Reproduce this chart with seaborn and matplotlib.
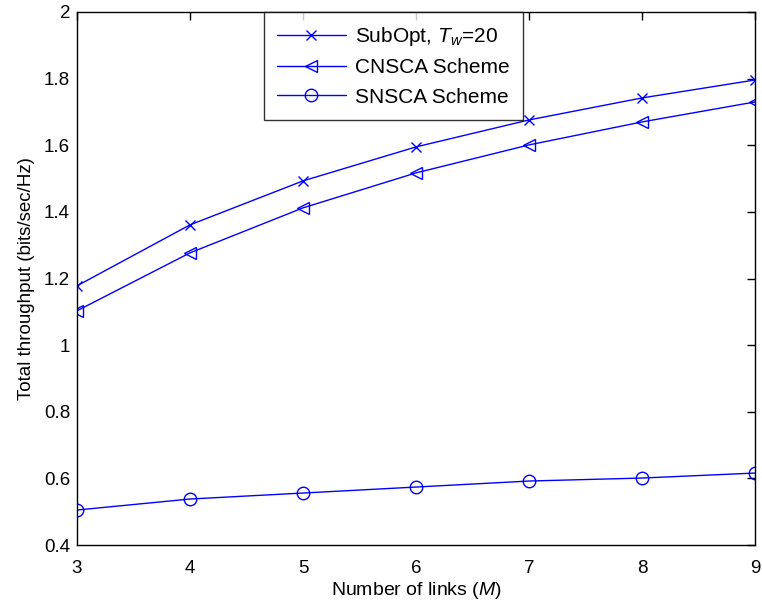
import matplotlib
matplotlib.use("Agg")
import matplotlib.pyplot as plt
import seaborn as sns
import pandas as pd

links = [3, 4, 5, 6, 7, 8, 9]
subopt = [1.178, 1.361, 1.493, 1.595, 1.676, 1.742, 1.796]
cnsca = [1.103, 1.277, 1.412, 1.517, 1.601, 1.670, 1.730]
snsca = [0.505, 0.538, 0.556, 0.574, 0.592, 0.601, 0.616]
labels = ["SubOpt, $T_w$=20", "CNSCA Scheme", "SNSCA Scheme"]

sns.set_style("white")
plt.rcParams['font.family'] = ['Liberation Sans', 'DejaVu Sans']
plt.rcParams['mathtext.fontset'] = 'custom'
plt.rcParams['mathtext.rm'] = 'Liberation Sans'
plt.rcParams['mathtext.it'] = 'Liberation Sans:italic'
plt.rcParams['text.color'] = 'black'
plt.rcParams['axes.labelcolor'] = 'black'
plt.rcParams['xtick.color'] = 'black'
plt.rcParams['ytick.color'] = 'black'

fig = plt.figure(figsize=(7.62, 6.06), dpi=100)
ax = fig.add_axes([77/762, 61/606, 678/762, 533/606])

blue = (0, 0, 1)
series = [(subopt, 'x', 6.5, labels[0]), (cnsca, '<', 9, labels[1]), (snsca, 'o', 9, labels[2])]
for vals, mk, ms, lab in series:
    df = pd.DataFrame({"M": links, "T": vals})
    sns.lineplot(data=df, x="M", y="T", ax=ax, color=blue, lw=1, marker=mk,
                 markersize=ms, markerfacecolor='none', markeredgecolor=blue,
                 markeredgewidth=1, label=lab)

ax.set_xlim(3, 9)
ax.set_ylim(0.4, 2.0)
ax.set_xticks(links)
ax.set_yticks([0.4, 0.6, 0.8, 1.0, 1.2, 1.4, 1.6, 1.8, 2.0])
ax.set_yticklabels(["0.4", "0.6", "0.8", "1", "1.2", "1.4", "1.6", "1.8", "2"])
ax.tick_params(direction='in', length=6, width=1, labelsize=13.5, top=True, right=True,
               color='black', labelcolor='black')
ax.tick_params(axis='x', pad=11)
ax.tick_params(axis='y', pad=5)
for s in ax.spines.values():
    s.set_color('black')
    s.set_linewidth(1)
ax.set_xlabel("Number of links ($M$)", fontsize=14, labelpad=2)
ax.set_ylabel("Total throughput (bits/sec/Hz)", fontsize=13.5, labelpad=6)

leg = ax.legend(loc='upper left', bbox_to_anchor=(0.276, 1.0), borderaxespad=0,
                fontsize=15, frameon=True, fancybox=False, edgecolor='black',
                handlelength=3.3, labelspacing=0.5, borderpad=0.62, handletextpad=0.45)
leg.get_frame().set_linewidth(1)

fig.savefig("out.png", dpi=100)
